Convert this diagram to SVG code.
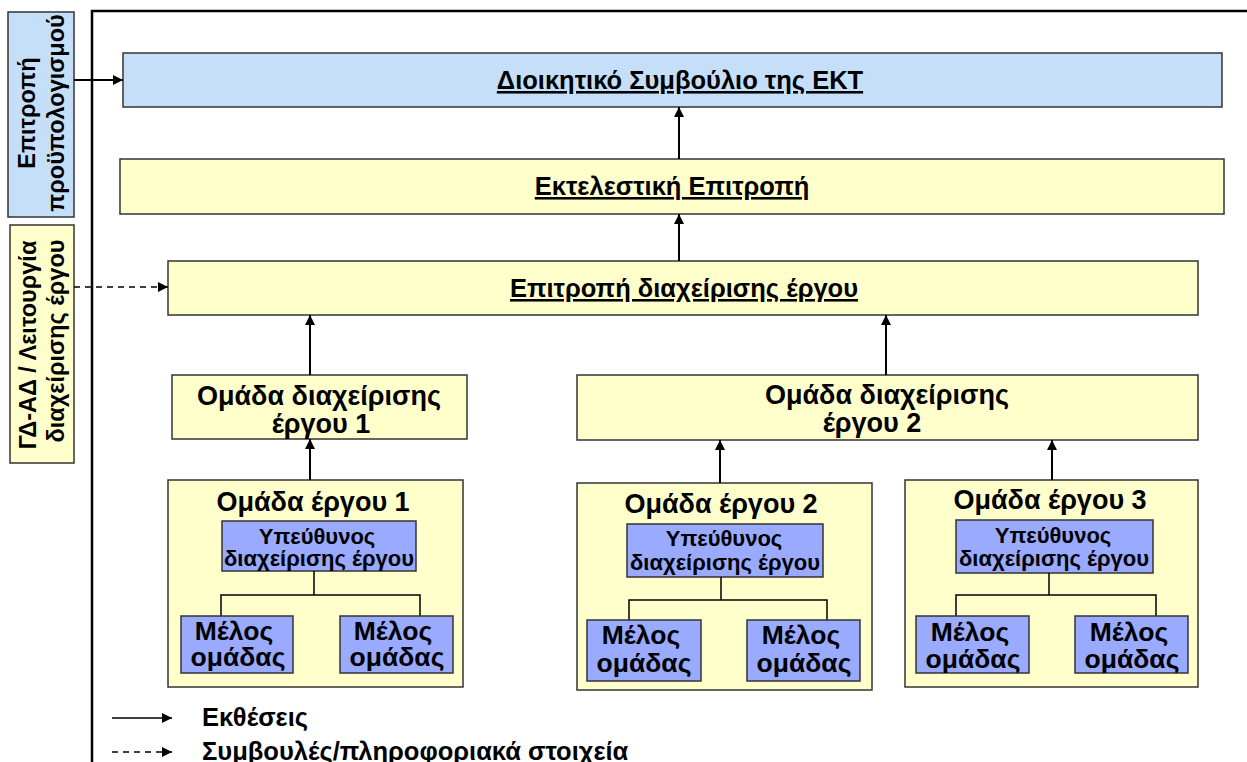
<svg xmlns="http://www.w3.org/2000/svg" width="1247" height="762" viewBox="0 0 1247 762">
<style>
text{font-family:"Liberation Sans",Arial,sans-serif;font-weight:bold;fill:#000}
.blue{fill:#C6DFF8;stroke:#333;stroke-width:1.5}
.yel{fill:#FFFFCC;stroke:#333;stroke-width:1.5}
.mem{fill:#99AAFF;stroke:#333;stroke-width:1.5}
.ttl{font-size:25.5px;text-anchor:middle;text-decoration:underline}
.big{font-size:27px;text-anchor:middle}
.mb{font-size:26.5px;text-anchor:middle}
.sm{font-size:22px;text-anchor:middle}
.side{font-size:23.5px;text-anchor:middle}
.leg{font-size:25.5px}
.c{stroke:#000;stroke-width:2;fill:none}
.t{stroke:#000;stroke-width:1.5;fill:none}
.d{stroke:#000;stroke-width:1.5;fill:none;stroke-dasharray:6 5}
</style>
<defs>
<marker id="ah" viewBox="0 0 10 10" refX="10" refY="5" markerWidth="10" markerHeight="10" markerUnits="userSpaceOnUse" orient="auto">
<path d="M0,0 L10,5 L0,10 z" fill="#000"/>
</marker>
</defs>
<rect width="1247" height="762" fill="#fff"/>
<path d="M92,762 V11 H1247" stroke="#000" stroke-width="2.5" fill="none"/>

<g id="budget">
<rect class="blue" x="8" y="12" width="66" height="205"/>
<text class="side" transform="translate(35,113) rotate(-90)">Επιτροπή</text>
<text class="side" transform="translate(64,113) rotate(-90)">προϋπολογισμού</text>
</g>
<g id="pmo">
<rect class="yel" x="10" y="225" width="64" height="238"/>
<text class="side" transform="translate(36,345) rotate(-90)">ΓΔ-ΑΔ / Λειτουργία</text>
<text class="side" transform="translate(64,341) rotate(-90)">διαχείρισης έργου</text>
</g>
<g id="board">
<rect class="blue" x="123" y="53" width="1099" height="54"/>
<text class="ttl" x="680" y="89">Διοικητικό Συμβούλιο της ΕΚΤ</text>
</g>
<g id="exec">
<rect class="yel" x="120" y="159" width="1104" height="55"/>
<text class="ttl" x="672" y="195">Εκτελεστική Επιτροπή</text>
</g>
<g id="pmc">
<rect class="yel" x="168" y="261" width="1030" height="54"/>
<text class="ttl" x="684" y="297">Επιτροπή διαχείρισης έργου</text>
</g>
<g id="pmt1">
<rect class="yel" x="172" y="375" width="295" height="64"/>
<text class="big" x="319" y="405">Ομάδα διαχείρισης</text>
<text class="big" x="321" y="433">έργου 1</text>
</g>
<g id="pmt2">
<rect class="yel" x="577" y="375" width="621" height="65"/>
<text class="big" x="887" y="404">Ομάδα διαχείρισης</text>
<text class="big" x="872" y="432">έργου 2</text>
</g>
<g id="team1">
<rect class="yel" x="168" y="480" width="295" height="207"/>
<text class="big" x="313" y="511">Ομάδα έργου 1</text>
<rect class="mem" x="222" y="521" width="194" height="50"/>
<text class="sm" x="317" y="544">Υπεύθυνος</text>
<text class="sm" x="319" y="566">διαχείρισης έργου</text>
<path class="t" d="M314,571 V595 M221,617 V595 H420 V617"/>
<rect class="mem" x="181" y="616" width="112" height="57"/>
<text class="mb" x="234" y="640">Μέλος</text>
<text class="mb" x="238" y="666">ομάδας</text>
<rect class="mem" x="340" y="616" width="113" height="57"/>
<text class="mb" x="393" y="640">Μέλος</text>
<text class="mb" x="397" y="666">ομάδας</text>
</g>
<g id="team2">
<rect class="yel" x="577" y="483" width="295" height="207"/>
<text class="big" x="721" y="513">Ομάδα έργου 2</text>
<rect class="mem" x="627" y="524" width="196" height="53"/>
<text class="sm" x="724" y="546">Υπεύθυνος</text>
<text class="sm" x="725" y="570">διαχείρισης έργου</text>
<path class="t" d="M721,577 V600 M629,620 V600 H827 V620"/>
<rect class="mem" x="587" y="620" width="114" height="61"/>
<text class="mb" x="641" y="644">Μέλος</text>
<text class="mb" x="644" y="672">ομάδας</text>
<rect class="mem" x="747" y="620" width="113" height="61"/>
<text class="mb" x="801" y="644">Μέλος</text>
<text class="mb" x="804" y="672">ομάδας</text>
</g>
<g id="team3">
<rect class="yel" x="905" y="480" width="293" height="207"/>
<text class="big" x="1050" y="509">Ομάδα έργου 3</text>
<rect class="mem" x="956" y="520" width="197" height="53"/>
<text class="sm" x="1053" y="543">Υπεύθυνος</text>
<text class="sm" x="1054" y="566">διαχείρισης έργου</text>
<path class="t" d="M1049,573 V595 M956,616 V595 H1156 V616"/>
<rect class="mem" x="916" y="616" width="113" height="57"/>
<text class="mb" x="970" y="641">Μέλος</text>
<text class="mb" x="973" y="668">ομάδας</text>
<rect class="mem" x="1075" y="616" width="113" height="57"/>
<text class="mb" x="1129" y="641">Μέλος</text>
<text class="mb" x="1132" y="668">ομάδας</text>
</g>

<g id="connectors">
<line class="c" x1="74" y1="80" x2="123" y2="80" marker-end="url(#ah)"/>
<line class="d" x1="74" y1="287" x2="168" y2="287" marker-end="url(#ah)"/>
<line class="c" x1="679" y1="159" x2="679" y2="107" marker-end="url(#ah)"/>
<line class="c" x1="679" y1="261" x2="679" y2="214" marker-end="url(#ah)"/>
<line class="c" x1="310" y1="375" x2="310" y2="315" marker-end="url(#ah)"/>
<line class="c" x1="886" y1="375" x2="886" y2="315" marker-end="url(#ah)"/>
<line class="c" x1="310" y1="480" x2="310" y2="439" marker-end="url(#ah)"/>
<line class="c" x1="720" y1="483" x2="720" y2="440" marker-end="url(#ah)"/>
<line class="c" x1="1052" y1="480" x2="1052" y2="440" marker-end="url(#ah)"/>
</g>

<g id="legend">
<line class="t" x1="112" y1="718" x2="172" y2="718" marker-end="url(#ah)"/>
<line class="d" x1="112" y1="752" x2="172" y2="752" marker-end="url(#ah)"/>
<text class="leg" x="202" y="726">Εκθέσεις</text>
<text class="leg" x="202" y="760">Συμβουλές/πληροφοριακά στοιχεία</text>
</g>
</svg>
